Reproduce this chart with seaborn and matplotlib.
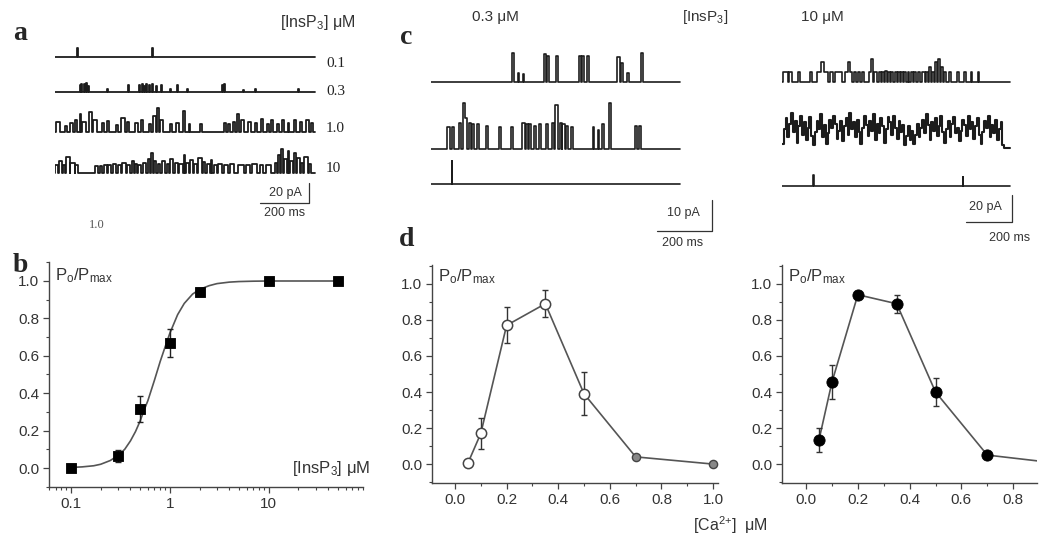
import numpy as np
import pandas as pd
import matplotlib
matplotlib.use("Agg")
import matplotlib.pyplot as plt
import seaborn as sns
from matplotlib.ticker import FixedLocator, MultipleLocator, NullFormatter

# ---- data: panel b (InsP3 dose response) ----
b_conc = [0.1, 0.3, 0.5, 1.0, 2.0, 10.0, 50.0]
b_po = [0.0, 0.064, 0.314, 0.67, 0.94, 1.0, 1.0]
b_err = [0.0, 0.03, 0.07, 0.075, 0.02, 0.0, 0.0]
fit_conc = [0.1, 0.13, 0.17, 0.2, 0.25, 0.3, 0.35, 0.4, 0.45, 0.5, 0.55, 0.6, 0.7, 0.8,
            0.9, 1.0, 1.2, 1.4, 1.7, 2.0, 2.5, 3.0, 4.0, 5.0, 7.0, 10.0, 20.0, 50.0]
fit_po = [0.003, 0.006, 0.012, 0.02, 0.04, 0.067, 0.10, 0.145, 0.195, 0.25, 0.31, 0.36, 0.47, 0.57,
          0.65, 0.72, 0.82, 0.88, 0.93, 0.955, 0.975, 0.986, 0.994, 0.997, 0.999, 1.0, 1.0, 1.0]

# ---- data: panel d (Ca2+ dependence) ----
ca_conc = [0.05, 0.1, 0.2, 0.35, 0.5, 0.7, 1.0]
d_low_po = [0.005, 0.17, 0.77, 0.89, 0.39, 0.04, 0.0]
d_low_err = [0.0, 0.085, 0.1, 0.075, 0.12, 0.0, 0.0]
d_high_po = [0.135, 0.455, 0.94, 0.89, 0.40, 0.05, 0.0]
d_high_err = [0.067, 0.095, 0.02, 0.05, 0.08, 0.01, 0.0]

# ---- data: single channel records, openings as (start ms, end ms, amplitude pA) ----
a_labels = ["0.1", "0.3", "1.0", "10"]
a_dur = 1060
a_01 = [(88, 93, 9), (394, 399, 9)]
a_03 = [(100, 104, 7), (108, 112, 8), (118, 122, 8), (125, 132, 9), (136, 140, 6), (214, 218, 3),
        (296, 300, 7), (341, 345, 7), (353, 357, 8), (362, 366, 6), (373, 377, 8), (382, 386, 7),
        (394, 398, 8), (410, 414, 6), (431, 435, 7), (467, 471, 3), (496, 500, 7), (537, 541, 3),
        (679, 683, 7), (690, 694, 8), (765, 769, 2), (814, 818, 3), (990, 994, 3)]
a_10 = [(5, 20, 10), (40, 48, 6), (62, 75, 9), (80, 90, 12), (100, 108, 18), (112, 125, 10),
        (140, 150, 20), (155, 170, 12), (190, 200, 9), (210, 222, 11), (250, 256, 7), (270, 285, 14),
        (292, 300, 10), (325, 340, 9), (350, 360, 12), (385, 392, 8), (400, 410, 16), (415, 422, 24),
        (428, 440, 12), (470, 478, 8), (495, 505, 9), (520, 528, 21), (545, 552, 8), (590, 600, 8),
        (690, 698, 9), (705, 712, 8), (725, 735, 10), (742, 750, 18), (760, 770, 12), (785, 800, 10),
        (815, 822, 9), (840, 850, 13), (865, 872, 8), (880, 890, 12), (905, 912, 8), (925, 935, 12),
        (950, 956, 9), (975, 982, 12), (1000, 1008, 10), (1025, 1035, 12), (1045, 1052, 9)]
a_100 = [(0, 12, 8), (15, 30, 12), (32, 40, 8), (45, 60, 16), (62, 80, 10), (82, 95, 8),
         (165, 175, 7), (182, 192, 7), (200, 212, 8), (218, 230, 8), (236, 250, 9), (258, 270, 8),
         (275, 290, 10), (295, 305, 8), (312, 322, 12), (325, 335, 9), (340, 352, 8), (360, 372, 10),
         (378, 388, 14), (392, 398, 20), (402, 412, 12), (418, 430, 9), (436, 450, 12), (455, 465, 9),
         (470, 482, 14), (488, 500, 10), (505, 520, 9), (525, 532, 18), (536, 548, 10), (552, 562, 13),
         (568, 580, 9), (585, 598, 15), (602, 612, 11), (618, 630, 9), (635, 642, 13), (648, 660, 8),
         (665, 680, 9), (690, 705, 8), (715, 730, 9), (745, 770, 8), (780, 795, 8), (805, 825, 9),
         (835, 850, 8), (862, 880, 8), (895, 905, 10), (908, 918, 18), (922, 930, 24), (934, 945, 14),
         (948, 955, 22), (958, 970, 12), (974, 982, 20), (986, 998, 15), (1002, 1012, 10),
         (1016, 1030, 16), (1035, 1045, 9)]
a_traces = [a_01, a_03, a_10, a_100]

c_low_dur = 905
c_low_top = [(293, 300, 9.3), (315, 319, 3), (333, 337, 2.5), (410, 418, 9), (423, 430, 8.5),
             (455, 463, 8.5), (538, 546, 8.5), (550, 558, 8.5), (568, 574, 8.5), (678, 686, 8),
             (691, 698, 6), (714, 719, 3), (765, 772, 9.3)]
c_low_mid = [(58, 70, 7), (76, 84, 7), (100, 110, 8.5), (118, 124, 14.7), (124, 130, 10), (138, 146, 8.5),
             (150, 156, 8), (168, 174, 8), (200, 206, 7.5), (248, 254, 7), (292, 298, 7), (330, 340, 8.5),
             (345, 352, 8), (356, 364, 8), (376, 382, 7.5), (393, 400, 8), (418, 425, 8), (440, 446, 8.5),
             (452, 462, 14), (470, 476, 8.5), (478, 486, 8), (492, 498, 7.5), (510, 516, 7), (588, 594, 7),
             (606, 612, 6), (622, 628, 8), (646, 656, 14.7), (740, 748, 7.5), (756, 764, 7.5)]
c_low_bot = [(75, 78, 7.5)]

c_high_dur = 990
c_high_top = [(5, 25, 7.5), (32, 45, 7.5), (70, 80, 7.5), (120, 130, 7.5), (150, 170, 7.5), (170, 182, 15),
              (182, 200, 7.5), (208, 220, 7.5), (232, 262, 7.5), (275, 285, 7.5), (285, 295, 15),
              (295, 305, 7.5), (312, 320, 7.5), (330, 340, 7.5), (348, 356, 7.5), (380, 386, 7.5),
              (386, 394, 17), (400, 412, 7.5), (422, 430, 7.5), (435, 442, 7.5), (448, 456, 8),
              (462, 470, 7.5), (476, 484, 7.5), (490, 498, 7.5), (505, 512, 7.5), (518, 526, 7.5),
              (532, 540, 7.5), (546, 554, 7.5), (560, 568, 7.5), (574, 582, 7.5), (590, 598, 7.5),
              (610, 620, 7.5), (628, 636, 7.5), (640, 648, 11), (652, 660, 7.5), (665, 675, 15),
              (680, 688, 17), (692, 700, 11), (706, 714, 7.5), (725, 735, 7.5), (760, 768, 7.5),
              (790, 798, 7.5), (820, 828, 7.5), (850, 858, 7.5)]
# 10 uM middle record: consecutive current levels (pA), one per ~8 ms
c_high_mid = [3, 14, 22, 8, 18, 26, 12, 20, 4, 16, 24, 10, 19, 6, 15, 23, 9, 2, 12, 20, 14, 25, 8, 17,
              3, 11, 21, 15, 24, 18, 7, 13, 20, 5, 16, 22, 10, 26, 14, 19, 8, 21, 12, 3, 15, 24, 17, 9,
              20, 13, 25, 6, 18, 11, 22, 16, 4, 14, 23, 19, 10, 24, 15, 7, 20, 12, 17, 2, 9, 16, 6, 13,
              3, 10, 18, 8, 15, 21, 11, 25, 17, 6, 19, 13, 22, 9, 16, 24, 12, 4, 14, 20, 8, 18, 23, 11,
              15, 5, 13, 21, 17, 9, 24, 14, 19, 7, 16, 22, 10, 3, 12, 20, 15, 24, 8, 17, 11, 21, 6, 14,
              19, 2, 0, 0, 0]
c_high_bot = [(133, 137, 8), (785, 789, 7)]

scale_ms = 200
scale_a_pA = 20
scale_c_low_pA = 10
scale_c_high_pA = 20

# ---- style ----
sns.set_style("ticks")
plt.rcParams["font.family"] = ["Liberation Sans", "DejaVu Sans"]
plt.rcParams["mathtext.fontset"] = "custom"
plt.rcParams["mathtext.rm"] = "Liberation Sans"
plt.rcParams["mathtext.it"] = "Liberation Sans:italic"
plt.rcParams["mathtext.bf"] = "Liberation Sans:bold"

W, H = 1050, 545
fig = plt.figure(figsize=(W / 100, H / 100), dpi=100)
TR = "#1c1c1c"
GR = "#555555"


def rect(l, t, r, b):
    return [l / W, 1 - b / H, (r - l) / W, (b - t) / H]


def ftext(x, y, s, **kw):
    fig.text(x / W, 1 - y / H, s, **kw)


def steps(events, dur):
    t, y = [0.0], [0.0]
    for s, e, a in events:
        if t[-1] == s and y[-1] == 0 and len(t) > 1 and t[-2] == s:
            t.pop()
            y.pop()
        else:
            t.append(s)
            y.append(0.0)
        t += [s, e, e]
        y += [a, a, 0.0]
    t.append(dur)
    y.append(0.0)
    return np.array(t), np.array(y)


def trace(ax, t, y, base, lw=1.1):
    sns.lineplot(x=t, y=y + base, ax=ax, estimator=None, sort=False, color=TR, lw=lw)


def scalebar(ax, x_end, y0, ms, pa):
    ax.plot([x_end - ms, x_end, x_end], [y0, y0, y0 + pa], color="#333", lw=0.9)


# ---- panel a ----
ax_a = fig.add_axes(rect(55, 40, 320, 215))
ax_a.set_xlim(0, 265 * a_dur / 260)
ax_a.set_ylim(0, 175)
a_bases = [158, 123, 83, 42]
for ev, base in zip(a_traces, a_bases):
    t, y = steps(ev, a_dur)
    trace(ax_a, t, y, base, lw=1.3)
scalebar(ax_a, 1036, 12, scale_ms, scale_a_pA)
ax_a.axis("off")
for lab, ypx in zip(a_labels, [63, 91, 128, 168]):
    ftext(326, ypx, lab, family="Liberation Serif", fontsize=11, va="center", color="#222")
ftext(318, 22, r"[InsP$_3$] μM", fontsize=11.5, ha="center", va="center", color="#333")
ftext(285, 193, f"{scale_a_pA} pA", fontsize=9, ha="center", va="center", color="#333")
ftext(285, 213, f"{scale_ms} ms", fontsize=9, ha="center", va="center", color="#333")

# ---- panel c ----
ax_cl = fig.add_axes(rect(431, 45, 715, 240))
ax_cl.set_xlim(0, 284 / 0.275)
ax_cl.set_ylim(0, 195 / 3.1)
for ev, base in zip([c_low_top, c_low_mid, c_low_bot], [51, 29.4, 18.1]):
    t, y = steps(ev, c_low_dur)
    trace(ax_cl, t, y, base, lw=1.2)
scalebar(ax_cl, 1022, 2.9, scale_ms, scale_c_low_pA)
ax_cl.axis("off")

ax_ch = fig.add_axes(rect(782, 45, 1020, 240))
ax_ch.set_xlim(0, 238 / 0.23)
ax_ch.set_ylim(0, 195 / 1.35)
for ev, base in zip([c_high_top, c_high_bot], [117, 40]):
    t, y = steps(ev, c_high_dur)
    trace(ax_ch, t, y, base, lw=1.2)
dt = c_high_dur / len(c_high_mid)
t_mid = np.arange(len(c_high_mid) + 1) * dt
y_mid = np.array(c_high_mid + [0])
sns.lineplot(x=t_mid, y=y_mid + 68.1, ax=ax_ch, estimator=None, sort=False,
             color=TR, lw=1.5, drawstyle="steps-post")
scalebar(ax_ch, 1000, 13.3, scale_ms, scale_c_high_pA)
ax_ch.axis("off")

ftext(495, 17, "0.3 μM", fontsize=11, ha="center", va="center", color="#333")
ftext(705, 17, r"[InsP$_3$]", fontsize=11, ha="center", va="center", color="#333")
ftext(822, 17, "10 μM", fontsize=11, ha="center", va="center", color="#333")
ftext(683, 213, f"{scale_c_low_pA} pA", fontsize=9, ha="center", va="center", color="#333")
ftext(683, 243, f"{scale_ms} ms", fontsize=9, ha="center", va="center", color="#333")
ftext(985, 207, f"{scale_c_high_pA} pA", fontsize=9, ha="center", va="center", color="#333")
ftext(1010, 238, f"{scale_ms} ms", fontsize=9, ha="center", va="center", color="#333")


def style_axes(ax):
    sns.despine(ax=ax)
    for s in ["left", "bottom"]:
        ax.spines[s].set_linewidth(1.0)
        ax.spines[s].set_color("#444")
    ax.tick_params(which="major", direction="out", length=4, width=0.9, color="#444",
                   labelsize=11, labelcolor="#333", pad=3)
    ax.tick_params(which="minor", direction="out", length=2.5, width=0.8, color="#444")
    ax.yaxis.set_major_locator(MultipleLocator(0.2))
    ax.yaxis.set_minor_locator(MultipleLocator(0.1))
    ax.yaxis.set_major_formatter(plt.FuncFormatter(lambda v, p: f"{v:.1f}"))


# ---- panel b ----
ax_b = fig.add_axes(rect(49, 262, 363, 487))
sns.lineplot(x=fit_conc, y=fit_po, ax=ax_b, estimator=None, sort=False, color=GR, lw=1.2)
ax_b.errorbar(b_conc, b_po, yerr=b_err, fmt="none", ecolor="#222", elinewidth=1, capsize=2.5)
sns.scatterplot(x=b_conc, y=b_po, ax=ax_b, marker="s", s=60, color="black", edgecolor="black", zorder=3)
ax_b.set_xscale("log")
ax_b.set_xlim(0.06, 90)
ax_b.set_ylim(-0.1016, 1.1016)
style_axes(ax_b)
ax_b.xaxis.set_major_locator(FixedLocator([0.1, 1, 10]))
ax_b.xaxis.set_major_formatter(plt.FuncFormatter(lambda v, p: f"{v:g}"))
ax_b.xaxis.set_minor_locator(FixedLocator([m * d for d in [0.01, 0.1, 1, 10] for m in range(2, 10)]))
ax_b.xaxis.set_minor_formatter(NullFormatter())
ax_b.set_xlabel("")
ax_b.set_ylabel("")
ftext(55, 276, r"P$_\mathrm{o}$/P$_\mathrm{max}$", fontsize=12, va="center", color="#333")
ftext(370, 469, r"[InsP$_3$] μM", fontsize=12, ha="right", va="center", color="#333")

# ---- panel d ----
ax_dl = fig.add_axes(rect(432, 265, 718, 483))
sns.lineplot(x=ca_conc, y=d_low_po, ax=ax_dl, estimator=None, sort=False, color=GR, lw=1.2)
ax_dl.errorbar(ca_conc, d_low_po, yerr=d_low_err, fmt="none", ecolor="#333", elinewidth=1, capsize=2.5)
sns.scatterplot(x=ca_conc[:5], y=d_low_po[:5], ax=ax_dl, marker="o", s=55, color="white",
                edgecolor="#444", linewidth=1.1, zorder=3)
sns.scatterplot(x=ca_conc[5:], y=d_low_po[5:], ax=ax_dl, marker="o", s=35, color="#888",
                edgecolor="#444", linewidth=1.0, zorder=3)
ax_dl.set_xlim(-0.089, 1.019)
ax_dl.set_ylim(-0.105, 1.105)

ax_dr = fig.add_axes(rect(782, 265, 1037, 483))
sns.lineplot(x=ca_conc, y=d_high_po, ax=ax_dr, estimator=None, sort=False, color=GR, lw=1.2)
ax_dr.errorbar(ca_conc, d_high_po, yerr=d_high_err, fmt="none", ecolor="#333", elinewidth=1, capsize=2.5)
sns.scatterplot(x=ca_conc, y=d_high_po, ax=ax_dr, marker="o", s=65, color="black",
                edgecolor="black", zorder=3)
ax_dr.set_xlim(-0.093, 0.892)
ax_dr.set_ylim(-0.105, 1.105)

for ax in [ax_dl, ax_dr]:
    style_axes(ax)
    ax.xaxis.set_major_locator(MultipleLocator(0.2))
    ax.xaxis.set_minor_locator(MultipleLocator(0.1))
    ax.xaxis.set_major_formatter(plt.FuncFormatter(lambda v, p: f"{v:.1f}"))
    ax.set_xlabel("")
    ax.set_ylabel("")

ftext(438, 277, r"P$_\mathrm{o}$/P$_\mathrm{max}$", fontsize=12, va="center", color="#333")
ftext(788, 277, r"P$_\mathrm{o}$/P$_\mathrm{max}$", fontsize=12, va="center", color="#333")
ftext(730, 525, r"[Ca$^{2{+}}$]  μM", fontsize=11.5, ha="center", va="center", color="#333")

# ---- panel letters and stray label ----
for lab, x, y in [("a", 20, 33), ("b", 20, 265), ("c", 406, 37), ("d", 407, 240)]:
    ftext(x, y, lab, family="Liberation Serif", fontsize=20, fontweight="bold", ha="center", va="center")
ftext(97, 225, "1.0", family="Liberation Serif", fontsize=9, ha="center", va="center", color="#555")

fig.savefig("out.png", dpi=100)
